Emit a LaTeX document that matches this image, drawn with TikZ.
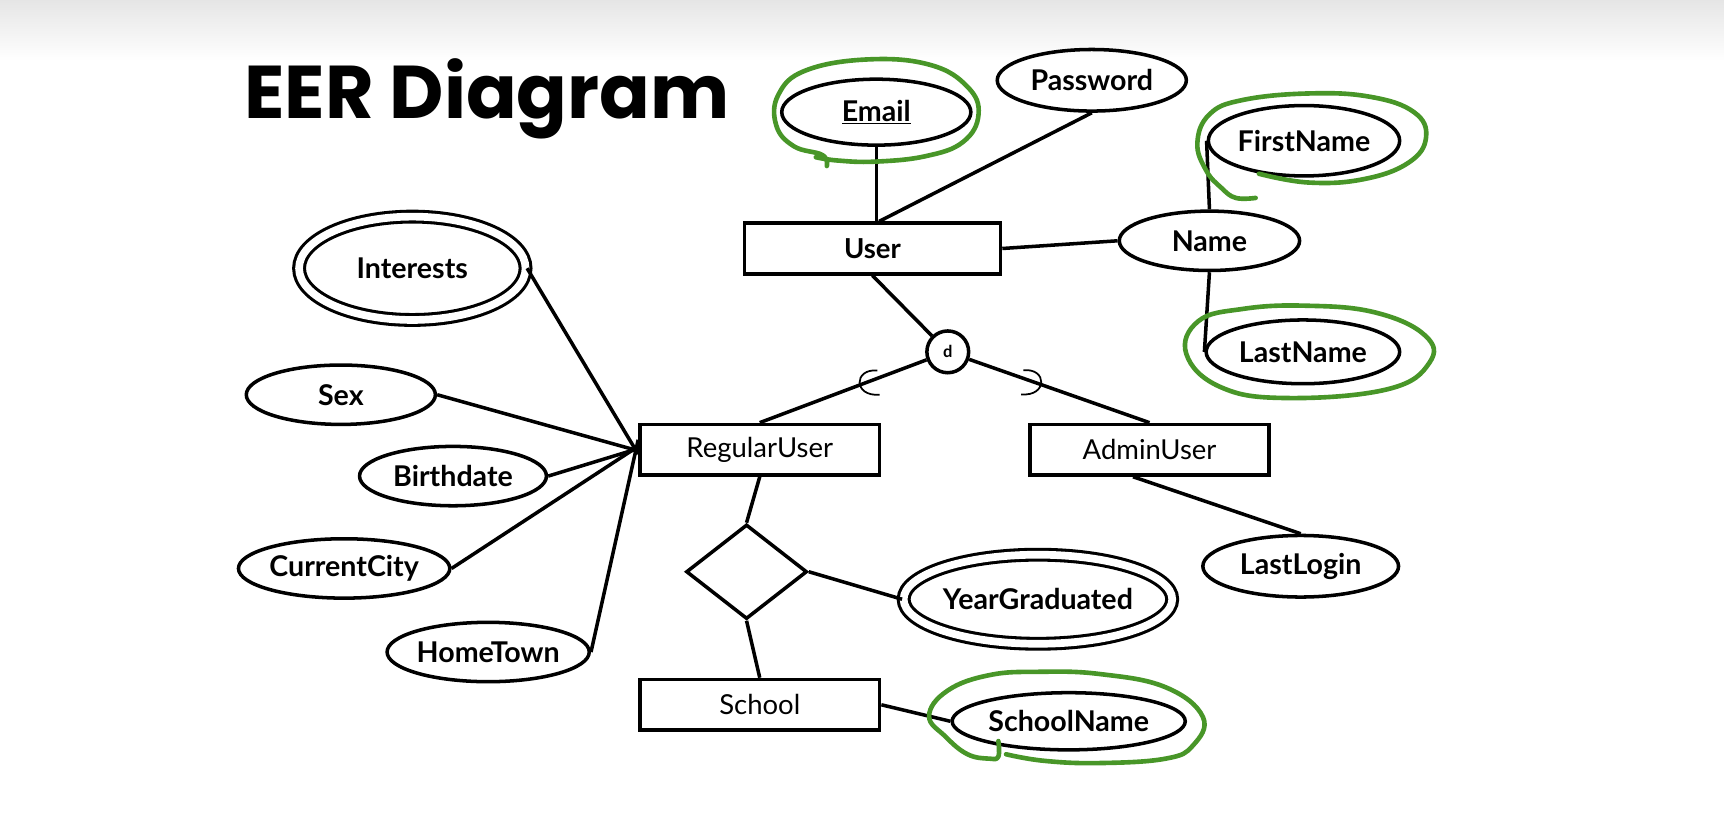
\documentclass[tikz,border=0pt]{standalone}
\usepackage{fontspec}
\setmainfont{Lato}
\newfontfamily\titlefont{Poppins}
\usetikzlibrary{shapes.geometric,calc}
\definecolor{egreen}{RGB}{72,150,40}
\begin{document}
\begin{tikzpicture}[x=1pt,y=-1pt,
  lw/.style={line width=3.2pt},
  attr/.style={draw, ellipse, lw, inner sep=0pt, font=\fontsize{26}{30}\selectfont\bfseries},
  mattr/.style={attr, double=white, double distance=7pt, line width=2.8pt},
  ent/.style={draw, rectangle, lw, inner sep=0pt, font=\fontsize{25}{30}\selectfont},
  conn/.style={lw},
  subs/.style={line width=1.6pt},
  hl/.style={draw=egreen, line width=4.2pt, line cap=round, line join=round},
]
\useasboundingbox (0,0) rectangle (1568,748);
\fill[white] (0,0) rectangle (1568,748);
\shade[top color=black!10, bottom color=white] (0,0) rectangle (1568,55);

% title
\node[anchor=base west, inner sep=0pt, font=\titlefont\fontsize{68}{72}\selectfont\bfseries] (title) at (222,108) {EER Diagram};

% entities
\node[ent, minimum width=233pt, minimum height=46pt] (user) at (793.5,226) {\bfseries User};
\node[ent, minimum width=218pt, minimum height=46pt] (ru) at (691,409) {RegularUser};
\node[ent, minimum width=217pt, minimum height=46pt] (au) at (1045.5,409) {AdminUser};
\node[ent, minimum width=218pt, minimum height=46pt] (school) at (691,641) {School};
\node[draw, diamond, lw, inner sep=0pt, minimum width=110pt, minimum height=86pt] (rel) at (679,520) {};
\node[draw, circle, lw, inner sep=0pt, minimum size=38pt, font=\fontsize{15}{16}\selectfont\bfseries] (d) at (862,320) {d};

% attributes
\node[attr, minimum width=172pt, minimum height=60pt] (email) at (797,102) {\underline{Email}};
\node[attr, minimum width=172pt, minimum height=56pt] (pw) at (993,73) {Password};
\node[attr, minimum width=174pt, minimum height=64pt] (fn) at (1186,128) {FirstName};
\node[attr, minimum width=164pt, minimum height=54pt] (name) at (1100,219) {Name};
\node[attr, minimum width=176pt, minimum height=58pt] (ln) at (1185,320) {LastName};
\node[mattr, minimum width=206pt, minimum height=94pt] (int) at (375,244) {Interests};
\node[attr, minimum width=172pt, minimum height=54pt] (sex) at (310,359) {Sex};
\node[attr, minimum width=170pt, minimum height=54pt] (bd) at (412,433) {Birthdate};
\node[attr, minimum width=170pt, minimum height=54pt] (cc) at (313,517) {CurrentCity};
\node[attr, minimum width=172pt, minimum height=54pt] (ht) at (444,593) {HomeTown};
\node[mattr, minimum width=228pt, minimum height=81pt] (yg) at (944,545) {YearGraduated};
\node[attr, minimum width=212pt, minimum height=52pt] (sn) at (972,656) {SchoolName};
\node[attr, minimum width=178pt, minimum height=56pt] (ll) at (1183,515) {LastLogin};

% connectors
\draw[conn] (email.south) -- (email.south |- user.north);
\draw[conn] (pw.south) -- ([xshift=6pt]user.north);
\draw[conn] (user.east) -- (name.west);
\draw[conn] (name.north) -- (fn.west);
\draw[conn] (name.south) -- (ln.west);
\draw[conn] (user.south) -- (d);
\draw[conn] (d) -- (ru.north) coordinate[pos=0.38] (s1);
\draw[conn] (d) -- (au.north) coordinate[pos=0.38] (s2);
\draw[conn] (int.east) -- ([yshift=-4pt]ru.west);
\draw[conn] (sex.east) -- ([yshift=-1pt]ru.west);
\draw[conn] (bd.east) -- ([yshift=1pt]ru.west);
\draw[conn] (cc.east) -- ([yshift=3pt]ru.west);
\draw[conn] (ht.east) -- ([yshift=9pt]ru.west);
\draw[conn] (ru.south) -- (rel.north);
\draw[conn] (rel.south) -- (school.north);
\draw[conn] (rel.east) -- (yg.west);
\draw[conn] (school.east) -- (sn.west);
\draw[conn] ([xshift=-15pt]au.south) -- (ll.north);

% subset symbols
\draw[subs] ($(s1)+(13,-12)$) .. controls ($(s1)+(-9,-14)$) and ($(s1)+(-9,12)$) .. ($(s1)+(15,10)$);
\draw[subs] ($(s2)+(-13,-12)$) .. controls ($(s2)+(9,-14)$) and ($(s2)+(9,12)$) .. ($(s2)+(-15,10)$);

% green highlight loops
\draw[hl] plot[smooth, tension=0.7] coordinates {(752,151) (748,141) (722,133) (706,114) (708,86) (733,64) (790,54) (846,59) (880,79) (890,104) (876,129) (842,142) (796,147) (762,146) (742,143)};
\draw[hl] plot[smooth, tension=0.7] coordinates {(1145,158) (1190,166) (1240,163) (1281,148) (1297,125) (1286,102) (1246,88) (1190,85) (1130,91) (1100,104) (1089,130) (1097,155) (1111,171) (1124,180) (1142,180)};
\draw[hl] plot[smooth cycle, tension=0.7] coordinates {(1186,278) (1250,284) (1296,305) (1300,330) (1262,354) (1170,362) (1110,352) (1079,322) (1090,292) (1130,281)};
\draw[hl] plot[smooth, tension=0.7] coordinates {(908,674) (908,688) (900,690) (880,686) (860,670) (845,651) (862,628) (900,614) (945,611) (1000,613) (1060,625) (1094,652) (1085,678) (1060,690) (1000,694) (950,692) (915,686)};
\end{tikzpicture}
\end{document}
